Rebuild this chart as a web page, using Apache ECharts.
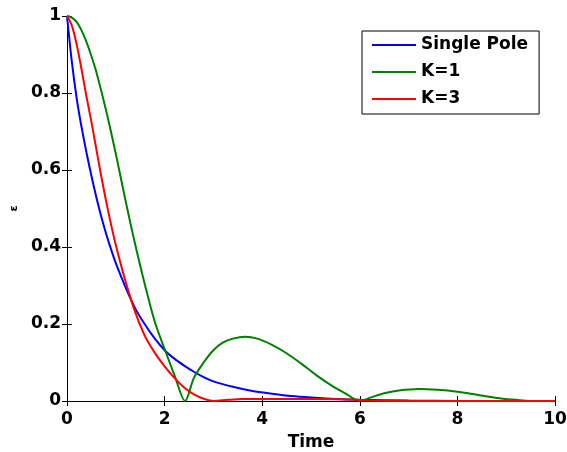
<!DOCTYPE html>
<html>
<head>
<meta charset="utf-8">
<title>epsilon vs time</title>
<script src="https://cdn.jsdelivr.net/npm/echarts@6/dist/echarts.min.js"></script>
<style>
  html, body { margin: 0; padding: 0; background: #fff; }
  #main { width: 567px; height: 452px; }
</style>
</head>
<body>
<div id="main"></div>
<script>
// values
var poleT = [0, 0.1, 0.2, 0.3, 0.4, 0.5, 0.6, 0.7, 0.8, 0.9, 1.0, 1.2, 1.4, 1.6, 1.8, 2.0, 2.2, 2.4, 2.6, 2.8, 3.0, 3.4, 3.8, 4.2, 4.6, 5.0, 5.5, 6.0, 7.0, 8.0, 10];
var poleY = [1, 0.88, 0.785, 0.71, 0.645, 0.585, 0.53, 0.48, 0.435, 0.395, 0.358, 0.295, 0.24, 0.198, 0.162, 0.132, 0.11, 0.092, 0.076, 0.062, 0.051, 0.037, 0.026, 0.019, 0.013, 0.009, 0.005, 0.003, 0.001, 0, 0];

var k1T = [0, 0.1, 0.2, 0.3, 0.4, 0.5, 0.6, 0.8, 1.0, 1.2, 1.4, 1.6, 1.8, 2.0, 2.2, 2.42, 2.6, 2.8, 3.0, 3.2, 3.4, 3.65, 3.9, 4.2, 4.5, 4.8, 5.1, 5.4, 5.7, 6.0, 6.2, 6.5, 6.8, 7.2, 7.6, 8.0, 8.4, 8.8, 9.2, 9.5, 10];
var k1Y = [1, 0.996, 0.984, 0.962, 0.932, 0.896, 0.855, 0.755, 0.642, 0.52, 0.405, 0.3, 0.205, 0.135, 0.068, 0, 0.06, 0.1, 0.132, 0.152, 0.162, 0.167, 0.162, 0.146, 0.124, 0.097, 0.068, 0.042, 0.02, 0, 0.008, 0.02, 0.027, 0.031, 0.029, 0.024, 0.016, 0.008, 0.003, 0, 0];

var k3T = [0, 0.1, 0.2, 0.3, 0.4, 0.5, 0.6, 0.7, 0.8, 0.9, 1.0, 1.2, 1.4, 1.6, 1.8, 2.0, 2.2, 2.4, 2.6, 2.8, 3.0, 3.3, 3.6, 4.0, 5.0, 5.8, 6.2, 7.0, 10];
var k3Y = [1, 0.975, 0.925, 0.86, 0.79, 0.725, 0.655, 0.585, 0.52, 0.46, 0.405, 0.31, 0.23, 0.168, 0.125, 0.09, 0.06, 0.035, 0.017, 0.006, 0, 0.003, 0.005, 0.005, 0.005, 0.004, 0.001, 0, 0];

var xTicks = { min: 0, max: 10, step: 2 };
var yTicks = { min: 0, max: 1, step: 0.2 };

function pairs(t, y) {
  return t.map(function (v, i) { return [v, y[i]]; });
}

var font = 'DejaVu Sans';
var chart = echarts.init(document.getElementById('main'));

var axisLine = { show: true, lineStyle: { color: '#000', width: 1 } };
var tick = { show: true, inside: true, length: 5, lineStyle: { color: '#000' } };
var labelStyle = { fontFamily: font, fontWeight: 'bold', fontSize: 17, color: '#000' };

chart.setOption({
  animation: false,
  backgroundColor: '#fff',
  grid: { left: 67, right: 12, top: 16, bottom: 51, containLabel: false, outerBoundsMode: 'none' },
  legend: {
    orient: 'vertical',
    left: 362,
    top: 31,
    icon: 'rect',
    itemWidth: 44,
    itemHeight: 2,
    itemGap: 7,
    padding: [4, 11, 5, 10],
    borderColor: '#000',
    borderWidth: 1,
    backgroundColor: '#fff',
    textStyle: { fontFamily: font, fontWeight: 'bold', fontSize: 17, color: '#000', lineHeight: 20 },
    data: ['Single Pole', 'K=1', 'K=3']
  },
  xAxis: [{
    type: 'value', min: xTicks.min, max: xTicks.max, interval: xTicks.step,
    name: 'Time', nameLocation: 'middle', nameGap: 33,
    nameTextStyle: labelStyle,
    axisLine: axisLine, axisTick: tick, splitLine: { show: false },
    axisLabel: Object.assign({ margin: 10 }, labelStyle)
  }, {
    type: 'value', position: 'top', min: xTicks.min, max: xTicks.max, interval: xTicks.step,
    axisLine: axisLine, axisTick: tick, splitLine: { show: false }, axisLabel: { show: false }
  }],
  yAxis: [{
    type: 'value', min: yTicks.min, max: yTicks.max, interval: yTicks.step,
    name: 'ε', nameLocation: 'middle', nameGap: 43,
    nameTextStyle: { fontFamily: font, fontWeight: 'bold', fontSize: 11, color: '#000' },
    axisLine: axisLine, axisTick: tick, splitLine: { show: false },
    axisLabel: Object.assign({ margin: 6 }, labelStyle)
  }, {
    type: 'value', position: 'right', min: yTicks.min, max: yTicks.max, interval: yTicks.step,
    axisLine: axisLine, axisTick: tick, splitLine: { show: false }, axisLabel: { show: false }
  }],
  series: [
    { name: 'Single Pole', type: 'line', data: pairs(poleT, poleY), showSymbol: false, symbol: 'none', smooth: 0.3,
      color: '#0000ff', lineStyle: { width: 2, color: '#0000ff' } },
    { name: 'K=1', type: 'line', data: pairs(k1T, k1Y), showSymbol: false, symbol: 'none', smooth: 0.3,
      color: '#008000', lineStyle: { width: 2, color: '#008000' } },
    { name: 'K=3', type: 'line', data: pairs(k3T, k3Y), showSymbol: false, symbol: 'none', smooth: 0.3,
      color: '#ff0000', lineStyle: { width: 2, color: '#ff0000' } }
  ]
});
</script>
</body>
</html>
